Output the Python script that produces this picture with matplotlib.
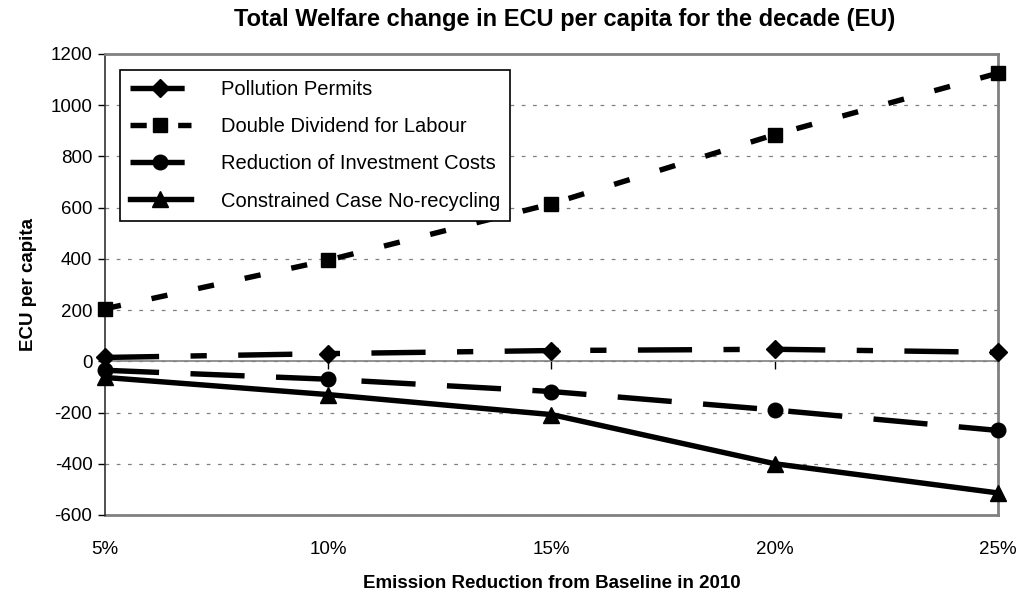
import matplotlib.pyplot as plt

plt.rcParams['font.family'] = ['Liberation Sans', 'DejaVu Sans']
plt.rcParams['axes.unicode_minus'] = False

reductions = ['5%', '10%', '15%', '20%', '25%']
pollution_permits = [15, 30, 42, 47, 35]
double_dividend = [205, 395, 615, 885, 1125]
reduction_invest = [-35, -70, -118, -190, -270]
constrained = [-63, -130, -208, -400, -514]

x = list(range(len(reductions)))

fig = plt.figure(figsize=(10.28, 5.95), dpi=100)
ax = fig.add_axes([0.1021, 0.1345, 0.8687, 0.7748])

lw = 3.9
ax.plot(x, pollution_permits, color='black', lw=lw, marker='D', ms=9.5,
        dashes=(10, 5.8, 3, 5.8), clip_on=False, zorder=4, label='Pollution Permits')
ax.plot(x, double_dividend, color='black', lw=lw, marker='s', ms=10.5,
        dashes=(3, 5.8), clip_on=False, zorder=4, label='Double Dividend for Labour')
ax.plot(x, reduction_invest, color='black', lw=lw, marker='o', ms=10.5,
        dashes=(10, 5.8), clip_on=False, zorder=4, label='Reduction of Investment Costs')
ax.plot(x, constrained, color='black', lw=lw, marker='^', ms=11,
        clip_on=False, zorder=4, label='Constrained Case No-recycling')

ax.set_xlim(0, 4)
ax.set_ylim(-600, 1200)
ax.set_yticks(range(-600, 1201, 200))
ax.yaxis.grid(True, linestyle=(0, (3, 6)), color='#808080', lw=0.9)
ax.set_axisbelow(True)

# category axis crosses at zero
ax.spines['bottom'].set_position(('data', 0))
ax.spines['bottom'].set_color('#808080')
ax.spines['bottom'].set_linewidth(1.2)
ax.set_xticks(x)
ax.tick_params(axis='x', direction='out', length=6, width=1, color='black', labelbottom=False)
ax.tick_params(axis='y', direction='out', length=5, width=1, labelsize=13.5, pad=4)

for s in ['top', 'right']:
    ax.spines[s].set_color('#808080')
    ax.spines[s].set_linewidth(2)
ax.spines['left'].set_color('#333333')
ax.spines['left'].set_linewidth(1.2)

sec = ax.secondary_xaxis('bottom')
sec.set_xticks(x, reductions)
sec.tick_params(length=0, pad=19, labelsize=13.5)
sec.spines['bottom'].set_color('#808080')
sec.spines['bottom'].set_linewidth(2)

sec.set_xlabel('Emission Reduction from Baseline in 2010', fontsize=13.5,
               fontweight='bold', labelpad=12)
ax.set_ylabel('ECU per capita', fontsize=13.5, fontweight='bold', labelpad=10)
ax.set_title('Total Welfare change in ECU per capita for the decade (EU)',
             fontsize=17, fontweight='bold', pad=20, x=0.515)

leg = ax.legend(loc='upper left', bbox_to_anchor=(0.017, 0.965), borderaxespad=0,
                fontsize=14.5, handlelength=3, handletextpad=1.5, labelspacing=0.9,
                borderpad=0.5, fancybox=False, framealpha=1, edgecolor='black')
leg.get_frame().set_linewidth(1.2)

fig.savefig('out.png', dpi=100)
